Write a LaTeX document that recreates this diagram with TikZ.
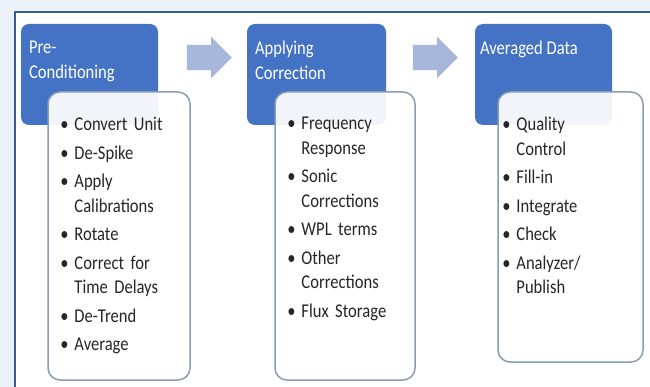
\documentclass[tikz,border=0pt]{standalone}
\usepackage{fontspec}
\setmainfont{Carlito}[FakeStretch=0.85]
\usepackage{tikz}
\usetikzlibrary{shapes.arrows,positioning}
\definecolor{hdrblue}{HTML}{4472C4}
\definecolor{arrblue}{HTML}{A7B7DC}
\definecolor{lstedge}{HTML}{8A9BB8}
\definecolor{frameblue}{HTML}{355E96}
\definecolor{pagebg}{HTML}{EBF1F9}
\tikzset{
  hdr/.style={fill=hdrblue, rounded corners=8pt, minimum height=101pt, inner sep=0pt},
  hdrtxt/.style={text=white, font=\fontsize{19.5}{24.5}\selectfont, align=left,
                 inner sep=0pt, anchor=north west},
  lstbox/.style={draw=lstedge, line width=1.5pt, fill=white, fill opacity=0.93,
                 rounded corners=12pt, inner sep=0pt},
  lsttxt/.style={text=black!85, font=\fontsize{19.5}{24.5}\selectfont,
                 execute at begin node={\setlength{\parskip}{4pt}},
                 text width=125pt, align=left, inner sep=0pt, anchor=north west},
  flowarr/.style={single arrow, fill=arrblue, minimum height=45pt, minimum width=41pt,
                  single arrow head extend=8pt, inner sep=0pt},
}
\newcommand{\itm}[1]{\noindent\hangindent=14pt\hangafter=1\makebox[14pt][l]{\textbullet}#1\par}

\begin{document}
\begin{tikzpicture}[x=1pt, y=-1pt]
    \clip (0,0) rectangle (650,387);
    \fill[pagebg] (0,0) rectangle (650,387);
    \draw[frameblue, line width=1.5pt, fill=white] (15,12) rectangle (700,450);
    % headers
    \node[hdr, minimum width=137pt] (pre)  at (89.5,74.5)  {};
    \node[hdr, minimum width=139pt] (corr) at (316.5,74.5) {};
    \node[hdr, minimum width=137pt] (avg)  at (543.5,74.5) {};
    \node[hdrtxt] (pret)  at ([shift={(8,17)}]pre.north west)  {Pre-\\Conditioning};
    \node[hdrtxt] (corrt) at ([shift={(8,17)}]corr.north west) {Applying\\Correction};
    \node[hdrtxt] (avgt)  at ([shift={(5,17)}]avg.north west)  {Averaged Data};
    \node[flowarr] (a1) at (203,57.5) {\rule{0pt}{25pt}};
    \node[flowarr] (a2) at (429,57.5) {\rule{0pt}{25pt}};
    % lists
    \node[lstbox, minimum width=142pt, minimum height=288pt] (prel)  at (119,236)   {};
    \node[lstbox, minimum width=140pt, minimum height=288pt] (corrl) at (345,236)   {};
    \node[lstbox, minimum width=145pt, minimum height=270pt] (avgl)  at (570.5,227) {};
    \node[lsttxt] (prei) at ([shift={(13,26)}]prel.north west) {%
      \itm{Convert Unit}
      \itm{De-Spike}
      \itm{Apply\newline Calibrations}
      \itm{Rotate}
      \itm{Correct for\newline Time Delays}
      \itm{De-Trend}
      \itm{Average}};
    \node[lsttxt] (corri) at ([shift={(13,26)}]corrl.north west) {%
      \itm{Frequency\newline Response}
      \itm{Sonic\newline Corrections}
      \itm{WPL terms}
      \itm{Other\newline Corrections}
      \itm{Flux Storage}};
    \node[lsttxt] (avgi) at ([shift={(5,26)}]avgl.north west) {%
      \itm{Quality\newline Control}
      \itm{Fill-in}
      \itm{Integrate}
      \itm{Check}
      \itm{Analyzer/\newline Publish}};
\end{tikzpicture}
\end{document}
